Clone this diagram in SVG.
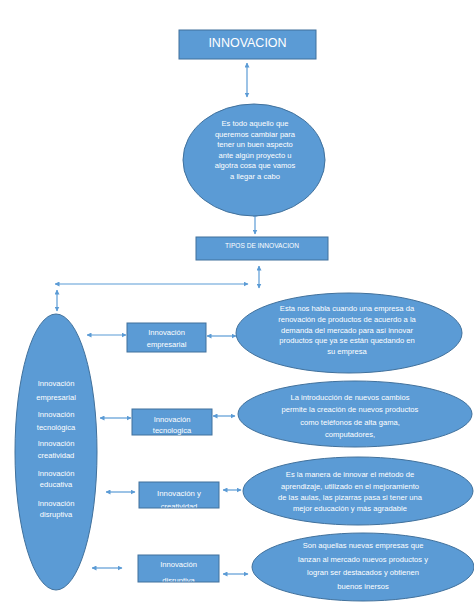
<svg xmlns="http://www.w3.org/2000/svg" width="474" height="609" viewBox="0 0 474 609">
<style>
.shape{fill:#5B9BD5;stroke:#41719C;stroke-width:1}
.t{font-family:"Liberation Sans",Arial,sans-serif;fill:#ffffff;font-size:7.6px;text-anchor:middle}
.c{stroke:#5B9BD5;stroke-width:1.2;fill:none;marker-start:url(#ah);marker-end:url(#ah)}
</style>
<defs>
<marker id="ah" viewBox="0 0 10 10" refX="9" refY="5" markerWidth="5" markerHeight="5" orient="auto-start-reverse" markerUnits="userSpaceOnUse">
<path d="M0,0 L10,5 L0,10 z" fill="#5B9BD5"/>
</marker>
<clipPath id="cb3"><rect x="139" y="482" width="80" height="25.5"/></clipPath>
<clipPath id="cb4"><rect x="138" y="555" width="81" height="26.5"/></clipPath>
</defs>
<rect width="474" height="609" fill="#ffffff"/>
<g id="connectors">
<line class="c" x1="247" y1="63" x2="247" y2="97"/>
<line class="c" x1="255" y1="212" x2="255" y2="234"/>
<line class="c" x1="259" y1="266" x2="259" y2="288"/>
<line class="c" x1="55" y1="284" x2="248" y2="284"/>
<line class="c" x1="57" y1="290" x2="57" y2="311"/>
<line class="c" x1="87" y1="335" x2="126" y2="335"/>
<line class="c" x1="207" y1="336" x2="236" y2="336"/>
<line class="c" x1="100" y1="418" x2="131" y2="418"/>
<line class="c" x1="213" y1="416" x2="235" y2="416"/>
<line class="c" x1="106" y1="492" x2="135" y2="492"/>
<line class="c" x1="223" y1="490" x2="241" y2="490"/>
<line class="c" x1="92" y1="568" x2="122" y2="568"/>
<line class="c" x1="223" y1="574" x2="248" y2="574"/>
</g>
<g id="innovacion">
<rect class="shape" x="179" y="30" width="137" height="29"/>
<text class="t" x="247.5" y="47" style="font-size:12.5px">INNOVACION</text>
</g>
<g id="definicion">
<ellipse class="shape" cx="254" cy="160" rx="71" ry="56"/>
<text class="t" x="255" y="126">Es todo aquello que</text>
<text class="t" x="255" y="136.5">queremos cambiar  para</text>
<text class="t" x="255" y="147">tener un buen aspecto</text>
<text class="t" x="255" y="157.5">ante  algún proyecto u</text>
<text class="t" x="255" y="168">algotra  cosa que vamos</text>
<text class="t" x="255" y="178.5">a llegar a cabo</text>
</g>
<g id="tipos">
<rect class="shape" x="196" y="237" width="132" height="23"/>
<text class="t" x="262" y="247.5" style="font-size:6.6px">TIPOS  DE INNOVACION</text>
</g>
<g id="lista">
<ellipse class="shape" cx="56" cy="452" rx="41" ry="138"/>
<text class="t" x="56" y="385.5">Innovación</text>
<text class="t" x="56" y="399.5">empresarial</text>
<text class="t" x="56" y="416.5">Innovación</text>
<text class="t" x="56" y="429.5">tecnológica</text>
<text class="t" x="56" y="445.5">Innovación</text>
<text class="t" x="56" y="457.5">creatividad</text>
<text class="t" x="56" y="475.5">Innovación</text>
<text class="t" x="56" y="486.5">educativa</text>
<text class="t" x="56" y="505.5">Innovación</text>
<text class="t" x="56" y="516.5">disruptiva</text>
</g>
<g id="empresarial">
<rect class="shape" x="127" y="323" width="79" height="29"/>
<text class="t" x="166.5" y="334.5">Innovación</text>
<text class="t" x="166.5" y="346.5">empresarial</text>
</g>
<g id="desc-empresarial">
<ellipse class="shape" cx="349" cy="333" rx="113" ry="40"/>
<text class="t" x="347" y="311">Esta nos habla cuando una empresa da</text>
<text class="t" x="347" y="321.8">renovación de productos de acuerdo a la</text>
<text class="t" x="347" y="332.6">demanda del mercado  para así innovar</text>
<text class="t" x="347" y="343.4">productos que ya se están quedando en</text>
<text class="t" x="347" y="354.2">su empresa</text>
</g>
<g id="tecnologica">
<rect class="shape" x="132" y="409" width="80" height="26"/>
<text class="t" x="172" y="421.5">Innovación</text>
<text class="t" x="172" y="432.5">tecnologica</text>
</g>
<g id="desc-tecnologica">
<ellipse class="shape" cx="355" cy="414" rx="117" ry="33"/>
<text class="t" x="350" y="400">La introducción de nuevos cambios</text>
<text class="t" x="350" y="412.3">permite  la creación de nuevos productos</text>
<text class="t" x="350" y="424.6">como teléfonos de alta gama,</text>
<text class="t" x="350" y="437">computadores,</text>
</g>
<g id="creatividad">
<rect class="shape" x="139" y="482" width="80" height="26"/>
<text class="t" x="179" y="495.5" style="font-size:7.8px">Innovación  y</text>
<text class="t" x="179" y="509" clip-path="url(#cb3)">creatividad</text>
</g>
<g id="desc-educativa">
<ellipse class="shape" cx="358" cy="491" rx="115" ry="34"/>
<text class="t" x="350" y="477">Es la manera  de innovar el método de</text>
<text class="t" x="350" y="488.5">aprendizaje,  utilizado  en el mejoramiento</text>
<text class="t" x="350" y="500">de las aulas,  las pizarras  pasa si tener una</text>
<text class="t" x="350" y="511">mejor educación y más agradable</text>
</g>
<g id="disruptiva">
<rect class="shape" x="138" y="555" width="81" height="27"/>
<text class="t" x="178.5" y="566.5">Innovación</text>
<text class="t" x="178.5" y="583" clip-path="url(#cb4)">disruptiva</text>
</g>
<g id="desc-disruptiva">
<ellipse class="shape" cx="363" cy="567" rx="111" ry="34"/>
<text class="t" x="363" y="548">Son aquellas  nuevas empresas que</text>
<text class="t" x="363" y="561.5">lanzan al mercado nuevos productos y</text>
<text class="t" x="363" y="575">logran  ser destacados y obtienen</text>
<text class="t" x="363" y="588.5">buenos inersos</text>
</g>
</svg>
